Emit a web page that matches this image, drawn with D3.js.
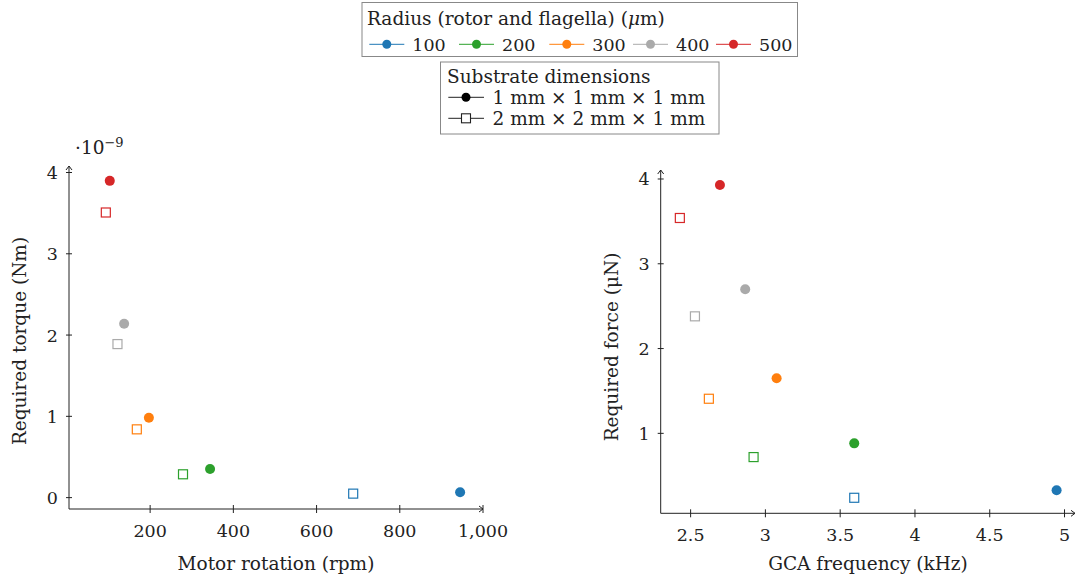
<!DOCTYPE html>
<html><head><meta charset="utf-8">
<script src="https://cdn.jsdelivr.net/npm/d3@7/dist/d3.min.js"></script>
<style>body{margin:0;background:#fff}svg{display:block}text{font-family:"DejaVu Serif",serif;fill:#222}</style>
</head><body><svg id="c" width="1076" height="577"></svg>
<script>
const radii = [100, 200, 300, 400, 500];
const colors = ["#1f77b4", "#2ca02c", "#ff7f0e", "#aaaaaa", "#d62728"];
const substrates = ["1 mm \u00d7 1 mm \u00d7 1 mm", "2 mm \u00d7 2 mm \u00d7 1 mm"];
// Left: motor rotation (rpm) vs torque (x1e-9 Nm)
const rpm1 = [945, 344, 197, 137.5, 103];
const torque1 = [0.066, 0.353, 0.983, 2.139, 3.897];
const rpm2 = [688, 279, 168, 121.5, 93.5];
const torque2 = [0.049, 0.287, 0.84, 1.889, 3.508];
// Right: GCA frequency (kHz) vs force (uN)
const freq1 = [4.947, 3.594, 3.075, 2.865, 2.696];
const force1 = [0.328, 0.882, 1.649, 2.699, 3.929];
const freq2 = [3.594, 2.921, 2.622, 2.529, 2.428];
const force2 = [0.24, 0.72, 1.408, 2.38, 3.54];
const xTicksL = [200, 400, 600, 800, 1000];
const xTickLabelsL = ["200", "400", "600", "800", "1,000"];
const yTicksL = [0, 1, 2, 3, 4];
const xTicksR = [2.5, 3, 3.5, 4, 4.5, 5];
const xTickLabelsR = ["2.5", "3", "3.5", "4", "4.5", "5"];
const yTicksR = [1, 2, 3, 4];

const svg = d3.select("#c");
const FS = 18.5, NFS = 17.5;

function arrow(g, x, y, dir) {
  const p = dir === 'right' ? `M${x-4},${y-3} L${x},${y} L${x-4},${y+3}` : `M${x-3},${y+4} L${x},${y} L${x+3},${y+4}`;
  g.append("path").attr("d", p).attr("fill", "none").attr("stroke", "#222").attr("stroke-width", 1);
}

function panel(cfg) {
  const g = svg.append("g");
  const x = d3.scaleLinear().domain(cfg.xd).range(cfg.xr);
  const y = d3.scaleLinear().domain(cfg.yd).range(cfg.yr);
  const x0 = cfg.xr[0], y0 = cfg.yr[0];
  g.append("line").attr("x1", x0).attr("x2", cfg.xr[1]).attr("y1", y0).attr("y2", y0).attr("stroke", "#222");
  g.append("line").attr("x1", x0).attr("x2", x0).attr("y1", y0).attr("y2", cfg.yr[1]).attr("stroke", "#222");
  arrow(g, cfg.xr[1], y0, 'right');
  arrow(g, x0, cfg.yr[1], 'up');
  cfg.xt.forEach((t, i) => {
    g.append("line").attr("x1", x(t)).attr("x2", x(t)).attr("y1", y0 - 4).attr("y2", y0 + 4).attr("stroke", "#222");
    g.append("text").attr("x", x(t)).attr("y", y0 + 28).attr("text-anchor", "middle").attr("font-size", NFS).text(cfg.xtl[i]);
  });
  cfg.yt.forEach(t => {
    g.append("line").attr("x1", x0 - 3).attr("x2", x0 + 3).attr("y1", y(t)).attr("y2", y(t)).attr("stroke", "#222");
    g.append("text").attr("x", x0 - 11).attr("y", y(t) + 6.5).attr("text-anchor", "end").attr("font-size", NFS).text(t);
  });
  g.append("text").attr("x", cfg.xlx).attr("y", 570).attr("text-anchor", "middle").attr("font-size", FS).text(cfg.xl);
  g.append("text").attr("transform", `translate(${cfg.ylx},${cfg.yly}) rotate(-90)`).attr("text-anchor", "middle").attr("font-size", FS).text(cfg.yl);
  cfg.x2.forEach((v, i) => {
    g.append("rect").attr("x", x(v) - 4.5).attr("y", y(cfg.y2[i]) - 4.5).attr("width", 9).attr("height", 9)
      .attr("fill", "#fff").attr("stroke", colors[i]).attr("stroke-width", 1.2);
  });
  cfg.x1.forEach((v, i) => {
    g.append("circle").attr("cx", x(v)).attr("cy", y(cfg.y1[i])).attr("r", 5).attr("fill", colors[i]);
  });
  return g;
}

const gl = panel({xd: [5, 1000], xr: [69, 483], yd: [-0.14, 4.08], yr: [509, 166],
  xt: xTicksL, xtl: xTickLabelsL, yt: yTicksL,
  x1: rpm1, y1: torque1, x2: rpm2, y2: torque2,
  xl: "Motor rotation (rpm)", xlx: 276, yl: "Required torque (Nm)", ylx: 26, yly: 341});
const ex = gl.append("text").attr("x", 75).attr("y", 154).attr("font-size", FS);
ex.append("tspan").text("\u00b710");
ex.append("tspan").attr("dy", -7).attr("font-size", 13).text("\u22129");

panel({xd: [2.3, 5.07], xr: [660.7, 1075], yd: [0.057, 4.106], yr: [513.3, 170],
  xt: xTicksR, xtl: xTickLabelsR, yt: yTicksR,
  x1: freq1, y1: force1, x2: freq2, y2: force2,
  xl: "GCA frequency (kHz)", xlx: 868, yl: "Required force (\u03bcN)", ylx: 618, yly: 347});

const l1 = svg.append("g");
l1.append("rect").attr("x", 362).attr("y", 2.5).attr("width", 435.5).attr("height", 54).attr("fill", "#fff").attr("stroke", "#888").attr("stroke-width", 1);
const t1 = l1.append("text").attr("x", 367).attr("y", 25).attr("font-size", FS);
t1.append("tspan").text("Radius (rotor and flagella) (");
t1.append("tspan").attr("font-style", "italic").text("\u03bc");
t1.append("tspan").text("m)");
const legX = [369.3, 459, 549.3, 633, 716];
radii.forEach((r, i) => {
  const lx = legX[i];
  l1.append("line").attr("x1", lx).attr("x2", lx + 35).attr("y1", 44.3).attr("y2", 44.3).attr("stroke", colors[i]).attr("stroke-width", 1);
  l1.append("circle").attr("cx", lx + 17.5).attr("cy", 44.3).attr("r", 4.5).attr("fill", colors[i]);
  l1.append("text").attr("x", lx + 43).attr("y", 51).attr("font-size", NFS).text(r);
});

const l2 = svg.append("g");
l2.append("rect").attr("x", 440.5).attr("y", 62).attr("width", 278.5).attr("height", 72).attr("fill", "#fff").attr("stroke", "#888").attr("stroke-width", 1);
l2.append("text").attr("x", 447).attr("y", 83).attr("font-size", FS).text("Substrate dimensions");
substrates.forEach((s, i) => {
  const cy = 97.3 + i * 21;
  l2.append("line").attr("x1", 448.3).attr("x2", 484).attr("y1", cy).attr("y2", cy).attr("stroke", "#222");
  if (i === 0) l2.append("circle").attr("cx", 466).attr("cy", cy).attr("r", 4.5).attr("fill", "#000");
  else l2.append("rect").attr("x", 461.5).attr("y", cy - 4.5).attr("width", 9).attr("height", 9).attr("fill", "#fff").attr("stroke", "#222").attr("stroke-width", 1.1);
  l2.append("text").attr("x", 492.5).attr("y", cy + 6.5).attr("font-size", FS).text(s);
});
</script></body></html>
